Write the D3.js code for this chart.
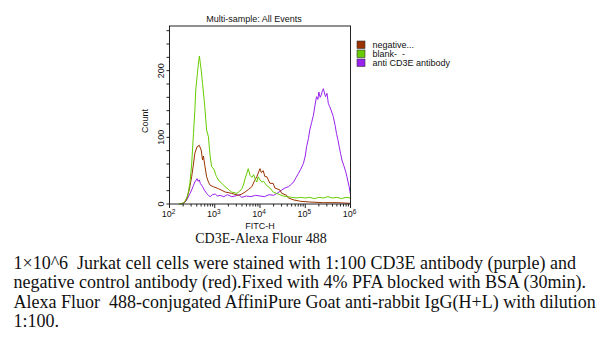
<!DOCTYPE html>
<html><head><meta charset="utf-8">
<script src="https://cdn.jsdelivr.net/npm/d3@7"></script>
<style>
body{margin:0;background:#fff;}
svg{display:block;}
text{white-space:pre;}
</style></head>
<body>
<svg id="chart" width="600" height="348"></svg>
<script>
// ---- data (x = log10 FITC-H, y = count) ----
const seriesNames = ["negative...", "blank-  -", "anti CD3E antibody"];
const seriesColors = ["#993300", "#66cc00", "#9922ee"];

const negativeLogX = [2.25,2.33,2.38,2.44,2.49,2.53,2.56,2.61,2.66,2.68,2.70,2.73,2.75,2.78,2.82,2.86,2.90,2.97,3.08,3.23,3.37,3.52,3.60,3.67,3.75,3.82,3.88,3.93,3.97,4.00,4.03,4.07,4.11,4.15,4.22,4.29,4.33,4.44,4.48,4.59,4.63,4.75,4.90,5.10,5.40,5.70,6.00];
const negativeCount = [0,2,8,22,41,60,76,86,88,84,81,66,72,58,41,33,28,26,23,18,16,13,15,18,22,26,35,41,48,53,47,50,41,41,31,31,24,21,16,13,9,6,4,3,2,2,1];

const blankLogX = [2.20,2.30,2.34,2.40,2.45,2.49,2.53,2.56,2.58,2.61,2.63,2.66,2.68,2.70,2.73,2.76,2.78,2.80,2.82,2.86,2.88,2.90,2.93,2.96,2.99,3.02,3.04,3.08,3.12,3.17,3.23,3.30,3.37,3.43,3.49,3.55,3.60,3.64,3.67,3.71,3.74,3.78,3.82,3.86,3.89,3.93,3.96,4.00,4.04,4.08,4.11,4.16,4.22,4.29,4.36,4.44,4.51,4.60,4.70,4.80,4.90,5.00,5.10,5.20,5.30,5.40,5.50,5.60,5.70,5.80,5.90,6.00];
const blankCount = [0,1,4,12,31,60,106,140,171,191,205,222,212,201,181,160,146,128,111,101,85,71,56,54,51,44,41,36,33,30,26,22,18,17,16,19,23,30,38,46,53,43,40,44,38,33,41,36,33,34,31,27,24,18,16,14,12,11,10,9,10,9,10,8,10,9,11,9,10,8,10,9];

const antiLogX = [2.25,2.33,2.38,2.44,2.49,2.53,2.56,2.61,2.63,2.66,2.68,2.71,2.74,2.77,2.82,2.86,2.90,2.95,3.01,3.06,3.12,3.20,3.28,3.37,3.45,3.53,3.60,3.70,3.80,3.90,4.00,4.10,4.20,4.30,4.40,4.48,4.55,4.63,4.70,4.74,4.80,4.85,4.90,4.96,5.00,5.03,5.07,5.10,5.14,5.18,5.22,5.25,5.28,5.30,5.33,5.35,5.38,5.40,5.43,5.45,5.48,5.51,5.54,5.57,5.60,5.62,5.66,5.69,5.72,5.75,5.78,5.81,5.86,5.90,5.92,5.97,6.00];
const antiCount = [0,2,6,14,21,28,33,38,34,36,31,28,25,21,16,13,11,14,15,12,13,11,14,11,12,14,10,12,11,13,12,11,14,13,17,21,24,26,30,33,40,46,52,61,72,86,98,111,122,133,150,161,157,168,160,163,170,173,165,161,166,151,146,141,135,131,118,106,97,86,76,66,56,47,41,26,14];

const xTickExps = [2,3,4,5,6];
const yTickLabels = [0,100,200];
const yMinorStep = 20;
const yMax = 267;

const chartTitle = "Multi-sample: All Events";
const xAxisTitle = "FITC-H";
const yAxisTitle = "Count";
const subTitle = "CD3E-Alexa Flour 488";
const captionLines = [
  "1\u00d710^6  Jurkat cell cells were stained with 1:100 CD3E antibody (purple) and",
  "negative control antibody (red).Fixed with 4% PFA blocked with BSA (30min).",
  "Alexa Fluor  488-conjugated AffiniPure Goat anti-rabbit IgG(H+L) with dilution",
  "1:100."
];

// ---- drawing ----
const svg = d3.select("#chart");
const L = 169.5, R = 350.5, T = 26, B = 204;
const x = d3.scaleLog().domain([1e2, 1e6]).range([L, R]);
const y = d3.scaleLinear().domain([0, yMax]).range([B, T]);
const SANS = "Liberation Sans, Arial, sans-serif";
const SERIF = "Liberation Serif, Times New Roman, serif";

const series = [
  {xs: negativeLogX, ys: negativeCount},
  {xs: blankLogX, ys: blankCount},
  {xs: antiLogX, ys: antiCount}
];

// title
svg.append("text").attr("x", 254).attr("y", 22).attr("text-anchor", "middle")
  .attr("font-family", SANS).attr("font-size", 9)
  .attr("fill", "#111").text(chartTitle);

// curves
const line = d3.line().x(d => x(Math.pow(10, d[0]))).y(d => y(d[1]));
const drawOrder = [2, 0, 1];
drawOrder.forEach(i => {
  const s = series[i];
  const pts = s.xs.map((v, k) => [v, s.ys[k]]);
  svg.append("path").datum(pts).attr("d", line)
    .attr("fill", "none").attr("stroke", seriesColors[i]).attr("stroke-width", 1)
    .attr("stroke-linejoin", "round");
});

// frame
svg.append("rect").attr("x", L).attr("y", T).attr("width", R - L).attr("height", B - T)
  .attr("fill", "none").attr("stroke", "#222").attr("stroke-width", 1);

// x axis ticks (log)
const xAxisG = svg.append("g");
xTickExps.forEach((e, i) => {
  const v = Math.pow(10, e);
  xAxisG.append("line").attr("x1", x(v)).attr("x2", x(v)).attr("y1", B).attr("y2", B + 4)
    .attr("stroke", "#222");
  if (i < xTickExps.length - 1) {
    for (let m = 2; m <= 9; m++) {
      const mv = m * v;
      xAxisG.append("line").attr("x1", x(mv)).attr("x2", x(mv)).attr("y1", B).attr("y2", B + 2.5)
        .attr("stroke", "#222");
    }
  }
  const t = xAxisG.append("text").attr("x", x(v) - 1).attr("y", B + 13).attr("text-anchor", "middle")
    .attr("font-family", SANS).attr("font-size", 9).attr("fill", "#111");
  t.append("tspan").text("10");
  t.append("tspan").attr("dy", -3.5).attr("font-size", 6.5).text(String(e));
});

// y axis ticks
const yAxisG = svg.append("g");
d3.range(0, yMax, yMinorStep).forEach(v => {
  yAxisG.append("line").attr("x1", L - 3).attr("x2", L).attr("y1", y(v)).attr("y2", y(v)).attr("stroke", "#222");
});
yTickLabels.forEach(v => {
  yAxisG.append("text").attr("transform", `translate(${L - 6},${y(v)}) rotate(-90)`)
    .attr("text-anchor", "middle").attr("font-family", SANS)
    .attr("font-size", 9).attr("fill", "#111").text(v);
});
svg.append("text").attr("transform", `translate(148,${(T + B) / 2 + 6}) rotate(-90)`)
  .attr("text-anchor", "middle").attr("font-family", SANS)
  .attr("font-size", 9).attr("fill", "#111").text(yAxisTitle);

// x axis title
svg.append("text").attr("x", 260).attr("y", 229).attr("text-anchor", "middle")
  .attr("font-family", SANS).attr("font-size", 9)
  .attr("fill", "#111").text(xAxisTitle);

// legend
const rowH = 9;
const leg = svg.append("g").attr("transform", "translate(357,41)");
seriesNames.forEach((n, i) => {
  leg.append("rect").attr("x", 0).attr("y", i * rowH).attr("width", 8).attr("height", 7.5)
    .attr("fill", seriesColors[i]).attr("stroke", "#333").attr("stroke-width", 0.6);
  leg.append("text").attr("x", 15.5).attr("y", i * rowH + 7).attr("font-family", SANS)
    .attr("font-size", 9).attr("fill", "#111").text(n);
});

// subtitle
svg.append("text").attr("x", 261).attr("y", 243).attr("text-anchor", "middle")
  .attr("font-family", SERIF).attr("font-size", 14)
  .attr("fill", "#111").text(subTitle);

// caption
captionLines.forEach((s, i) => {
  svg.append("text").attr("x", 13.5).attr("y", 269 + i * 19.3)
    .attr("font-family", SERIF).attr("font-size", 18)
    .attr("fill", "#111").text(s);
});
</script>
</body></html>
